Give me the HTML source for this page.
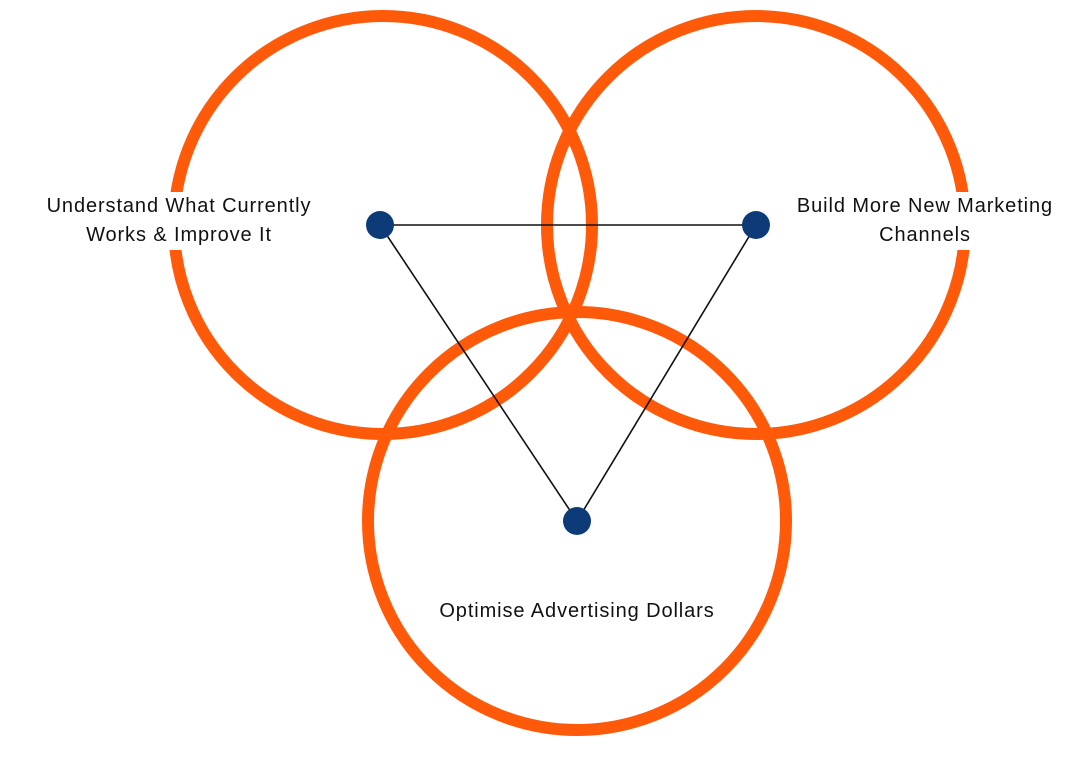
<!DOCTYPE html>
<html><head><style>
html,body{margin:0;padding:0;background:#fff;width:1080px;height:761px;overflow:hidden;}
svg{position:absolute;left:0;top:0}
.t{position:absolute;font-family:"Liberation Sans",sans-serif;font-size:20px;letter-spacing:0.9px;color:#111;text-align:center;line-height:29px;background:#fff;white-space:nowrap;}
</style></head><body>
<svg width="1080" height="761">
<g fill="none" stroke="#ff5a0a" stroke-width="12">
<circle cx="383" cy="225" r="209"/>
<circle cx="756" cy="225" r="209"/>
<circle cx="577" cy="521" r="209"/>
</g>
<g stroke="#111" stroke-width="1.6">
<line x1="380" y1="225" x2="756" y2="225"/>
<line x1="380" y1="225" x2="577" y2="521"/>
<line x1="756" y1="225" x2="577" y2="521"/>
</g>
<g fill="#0d3b78">
<circle cx="380" cy="225" r="14"/>
<circle cx="756" cy="225" r="14"/>
<circle cx="577" cy="521" r="14"/>
</g>
</svg>
<div class="t" style="left:40px;top:192px;width:278px;">Understand What Currently<br>Works &amp; Improve It</div>
<div class="t" style="left:792px;top:192px;width:266px;">Build More New Marketing<br>Channels</div>
<div class="t" style="left:430px;top:597px;width:294px;background:transparent;">Optimise Advertising Dollars</div>
</body></html>
